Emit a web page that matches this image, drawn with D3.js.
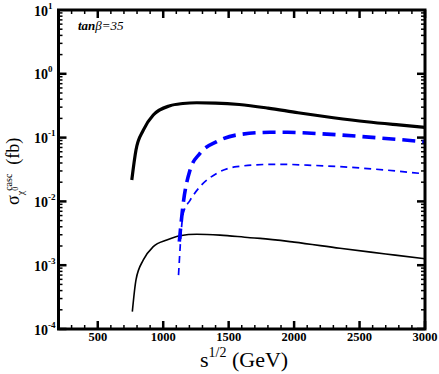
<!DOCTYPE html>
<html><head><meta charset="utf-8">
<script src="https://cdn.jsdelivr.net/npm/d3@7"></script>
<style>body{margin:0;background:#fff}svg{display:block}</style>
</head><body>
<svg id="c" width="439" height="374"></svg>
<script>
// Data
const thickBlackX = [760, 792, 848, 924, 1052, 1150, 1256, 1400, 1581, 1800, 2030, 2300, 2554, 2800, 3000];
const thickBlackY = [0.0216, 0.064, 0.131, 0.226, 0.316, 0.342, 0.352, 0.348, 0.33, 0.29, 0.245, 0.205, 0.177, 0.158, 0.145];
const thinBlackX = [764, 792, 848, 924, 1027, 1128, 1256, 1434, 1663, 1740, 2000, 2350, 2700, 3000];
const thinBlackY = [0.000187, 0.00059, 0.00121, 0.00195, 0.00248, 0.0029, 0.00305, 0.00296, 0.0027, 0.00263, 0.0023, 0.00184, 0.0015, 0.00126];
const thickBlueX = [1123, 1153, 1205, 1281, 1409, 1561, 1816, 1950, 2100, 2350, 2700, 3000];
const thickBlueY = [0.00234, 0.0093, 0.031, 0.0567, 0.0863, 0.11, 0.121, 0.121, 0.118, 0.11, 0.097, 0.086];
const thinBlueX = [1117, 1153, 1205, 1281, 1409, 1561, 1816, 1943, 2100, 2350, 2700, 3000];
const thinBlueY = [0.0007, 0.0065, 0.0104, 0.017, 0.0275, 0.035, 0.038, 0.038, 0.037, 0.035, 0.031, 0.027];
const xTicks = [500, 1000, 1500, 2000, 2500, 3000];
const yTickExps = [1, 0, -1, -2, -3, -4];

const SERIF = "'Liberation Serif', 'Times New Roman', 'DejaVu Serif', serif";
const svg = d3.select("#c");
const L = 58.5, R = 425, T = 10, B = 329;
const x = d3.scaleLinear().domain([200, 3000]).range([L, R]);
const y = d3.scaleLog().domain([1e-4, 10]).range([B, T]);

// minor/major ticks
const g = svg.append("g");
const minorX = d3.range(200, 3001, 100);
const tickLines = [];
minorX.forEach(v => {
  const major = v % 500 === 0;
  const len = major ? 8 : 4;
  tickLines.push([x(v), B, x(v), B - len, major]);
  tickLines.push([x(v), T, x(v), T + len, major]);
});
for (let e = -4; e <= 0; e++) {
  for (let m = 1; m <= 9; m++) {
    const v = m * Math.pow(10, e);
    const major = m === 1;
    const len = major ? 8 : 4;
    tickLines.push([L, y(v), L + len, y(v), major]);
    tickLines.push([R, y(v), R - len, y(v), major]);
  }
}
g.selectAll("line.t").data(tickLines).join("line")
  .attr("x1", d => d[0]).attr("y1", d => d[1]).attr("x2", d => d[2]).attr("y2", d => d[3])
  .attr("stroke", "#000").attr("stroke-width", d => d[4] ? 2.5 : 1.5);

// lines
const line = d3.line().x(d => x(d[0])).y(d => y(d[1])).curve(d3.curveMonotoneX);
function draw(xs, ys, color, w, dash) {
  const p = svg.append("path").datum(xs.map((v, i) => [v, ys[i]]))
    .attr("d", line).attr("fill", "none").attr("stroke", color).attr("stroke-width", w);
  if (dash) p.attr("stroke-dasharray", dash);
}
draw(thinBlackX, thinBlackY, "#000", 1.6, null);
draw(thickBlackX, thickBlackY, "#000", 3.2, null);
draw(thinBlueX, thinBlueY, "#0000ff", 1.7, "7,5");
draw(thickBlueX, thickBlueY, "#0000ff", 3.6, "13,7");

// frame
svg.append("rect").attr("x", L).attr("y", T).attr("width", R - L).attr("height", B - T)
  .attr("fill", "none").attr("stroke", "#000").attr("stroke-width", 3);

// x tick labels
svg.selectAll("text.xt").data(xTicks).join("text")
  .attr("x", d => x(d)).attr("y", 341).attr("text-anchor", "middle")
  .attr("font-family", SERIF).attr("font-weight", "bold").attr("font-size", 12.5)
  .text(d => d);

// y tick labels
const yt = svg.selectAll("text.yt").data(yTickExps).join("text")
  .attr("x", 34).attr("y", d => y(Math.pow(10, d)) + 5.5)
  .attr("font-family", SERIF).attr("font-weight", "bold").attr("font-size", 14);
yt.append("tspan").text("10");
yt.append("tspan").attr("dy", -7).attr("font-size", 9).text(d => d);

// x label
const xl = svg.append("text").attr("x", 200).attr("y", 367)
  .attr("font-family", SERIF).attr("font-size", 22);
xl.append("tspan").text("s");
xl.append("tspan").attr("dy", -10).attr("font-size", 14).text("1/2");
xl.append("tspan").attr("dy", 10).text(" (GeV)");

// y label
const yl = svg.append("text").attr("transform", "translate(19,205) rotate(-90)")
  .attr("font-family", SERIF).attr("font-size", 18);
yl.append("tspan").text("σ");
yl.append("tspan").attr("font-size", 10).attr("dy", 5).text("χ");
yl.append("tspan").attr("font-size", 8).attr("dy", -6).text("0");
yl.append("tspan").attr("font-size", 10).attr("dx", -4).attr("dy", -6).text("casc");
yl.append("tspan").attr("dx", 9).attr("dy", 7).text("(fb)");

// annotation
const an = svg.append("text").attr("x", 78).attr("y", 30)
  .attr("font-family", SERIF).attr("font-style", "italic").attr("font-weight", "bold").attr("font-size", 13);
an.append("tspan").text("tan");
an.append("tspan").attr("font-weight", "normal").text("β=35");
</script>
</body></html>
